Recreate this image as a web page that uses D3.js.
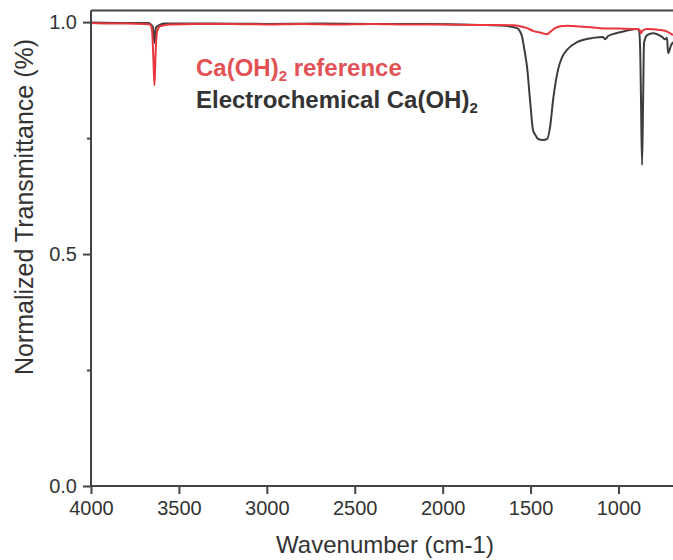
<!DOCTYPE html>
<html>
<head>
<meta charset="utf-8">
<script src="https://cdn.jsdelivr.net/npm/d3@7"></script>
<style>
  body { margin: 0; background: #fff; }
  text { font-family: "Liberation Sans", Arial, sans-serif; }
</style>
</head>
<body>
<div id="chart"></div>
<script>
// reference Ca(OH)2 spectrum (wavenumber, transmittance)
var refWavenumber = [4000, 3900, 3800, 3700, 3664, 3653, 3645, 3639, 3633, 3625, 3608, 3551,
  3400, 3200, 3000, 2800, 2600, 2400, 2200, 2000, 1800, 1674, 1600, 1560, 1520, 1486, 1440,
  1406, 1385, 1361, 1330, 1293, 1200, 1105, 1000, 894, 880, 872, 862, 837, 764, 720, 690];
var refTransmittance = [0.998, 0.997, 0.997, 0.996, 0.995, 0.983, 0.918, 0.864, 0.929, 0.978, 0.991, 0.995,
  0.996, 0.996, 0.995, 0.996, 0.995, 0.996, 0.995, 0.995, 0.994, 0.994, 0.993, 0.991, 0.987, 0.981, 0.977,
  0.974, 0.980, 0.987, 0.991, 0.992, 0.990, 0.987, 0.986, 0.985, 0.983, 0.976, 0.982, 0.985, 0.983, 0.979, 0.972];

// electrochemical Ca(OH)2 spectrum
var echemWavenumber = [4000, 3800, 3676, 3647, 3639, 3630, 3579, 3300, 3000, 2700, 2400, 2100, 1900,
  1787, 1650, 1577, 1560, 1548, 1535, 1520, 1503, 1486, 1470, 1457, 1430, 1406, 1389, 1372, 1344,
  1320, 1293, 1236, 1145, 1088, 1076, 1059, 991, 894, 883, 876, 872, 866, 860, 855, 837, 803,
  752, 735, 724, 718, 701, 690];
var echemTransmittance = [0.999, 0.998, 0.998, 0.989, 0.955, 0.989, 0.997, 0.997, 0.996, 0.997, 0.996, 0.996, 0.995,
  0.994, 0.992, 0.987, 0.980, 0.968, 0.940, 0.903, 0.832, 0.767, 0.755, 0.748, 0.746, 0.748, 0.774, 0.832, 0.897,
  0.925, 0.940, 0.957, 0.966, 0.968, 0.963, 0.970, 0.978, 0.985, 0.981, 0.930, 0.832, 0.692, 0.832, 0.955, 0.972, 0.976,
  0.968, 0.963, 0.966, 0.933, 0.950, 0.957];

var xTicks = [4000, 3500, 3000, 2500, 2000, 1500, 1000];
var yTicks = [0, 0.5, 1];
var yMinorTicks = [0.25, 0.75];
var seriesNames = ['Ca(OH)', 'Electrochemical Ca(OH)'];
var seriesColors = ['#e8363c', '#3d3d3d'];

var W = 673, H = 560;
var mLeft = 91, mRight = 673, mTop = 10.5, mBottom = 486;

var svg = d3.select('#chart').append('svg').attr('width', W).attr('height', H);

var x = d3.scaleLinear().domain([4000, 690]).range([mLeft, mRight]);
var y = d3.scaleLinear().domain([0, 1.025]).range([mBottom, mTop]);

svg.append('clipPath').attr('id', 'plotClip')
  .append('rect').attr('x', mLeft).attr('y', mTop).attr('width', mRight - mLeft).attr('height', mBottom - mTop);

var line = d3.line()
  .x(function(d) { return x(d[0]); })
  .y(function(d) { return y(d[1]); })
  .curve(d3.curveMonotoneX);

var echem = d3.zip(echemWavenumber, echemTransmittance);
var ref = d3.zip(refWavenumber, refTransmittance);

var plot = svg.append('g').attr('clip-path', 'url(#plotClip)');
// black drawn first, red sits on top
plot.append('path').datum(echem).attr('d', line)
  .attr('fill', 'none').attr('stroke', seriesColors[1]).attr('stroke-width', 2)
  .attr('stroke-linejoin', 'round');
plot.append('path').datum(ref).attr('d', line)
  .attr('fill', 'none').attr('stroke', seriesColors[0]).attr('stroke-width', 2)
  .attr('stroke-linejoin', 'round');

// top frame line
svg.append('line').attr('x1', mLeft).attr('x2', mRight + 2).attr('y1', mTop).attr('y2', mTop)
  .attr('stroke', '#444').attr('stroke-width', 2);

// axes
var xAxis = svg.append('g').attr('transform', 'translate(0,' + mBottom + ')')
  .call(d3.axisBottom(x).tickValues(xTicks).tickFormat(d3.format('d')).tickSize(8).tickPadding(7).tickSizeOuter(0));
var yAxis = svg.append('g').attr('transform', 'translate(' + mLeft + ',0)')
  .call(d3.axisLeft(y).tickValues(yTicks).tickFormat(d3.format('.1f')).tickSize(8).tickPadding(6).tickSizeOuter(0));
var yMinor = svg.append('g').attr('transform', 'translate(' + mLeft + ',0)')
  .call(d3.axisLeft(y).tickValues(yMinorTicks).tickFormat('').tickSize(4).tickSizeOuter(0));
yMinor.select('.domain').remove();

[xAxis, yAxis, yMinor].forEach(function(g) {
  g.selectAll('.domain').attr('stroke', '#444').attr('stroke-width', 2);
  g.selectAll('.tick line').attr('stroke', '#444').attr('stroke-width', 2);
  g.selectAll('.tick text').attr('fill', '#333').style('font-size', '20px')
    .style('font-family', '"Liberation Sans", Arial, sans-serif');
});
yAxis.select('.domain').attr('d', 'M0,' + mTop + 'V' + mBottom);
xAxis.select('.domain').attr('d', 'M' + mLeft + ',0H' + (mRight + 2));

// axis titles
svg.append('text').attr('x', 385).attr('y', 553)
  .attr('text-anchor', 'middle').attr('fill', '#333').style('font-size', '24px')
  .text('Wavenumber (cm-1)');
svg.append('text').attr('transform', 'translate(33,207) rotate(-90)')
  .attr('text-anchor', 'middle').attr('fill', '#333').style('font-size', '25px')
  .text('Normalized Transmittance (%)');

// legend labels with subscript 2
var t1 = svg.append('text').attr('x', 196).attr('y', 76).attr('fill', '#e25255')
  .style('font-size', '24px').style('font-weight', 'bold');
t1.append('tspan').text(seriesNames[0]);
t1.append('tspan').attr('dy', 5).style('font-size', '15px').text('2');
t1.append('tspan').attr('dy', -5).text(' reference');

var t2 = svg.append('text').attr('x', 196).attr('y', 108).attr('fill', '#333')
  .style('font-size', '24px').style('font-weight', 'bold');
t2.append('tspan').text(seriesNames[1]);
t2.append('tspan').attr('dy', 5).style('font-size', '15px').text('2');
</script>
</body>
</html>
